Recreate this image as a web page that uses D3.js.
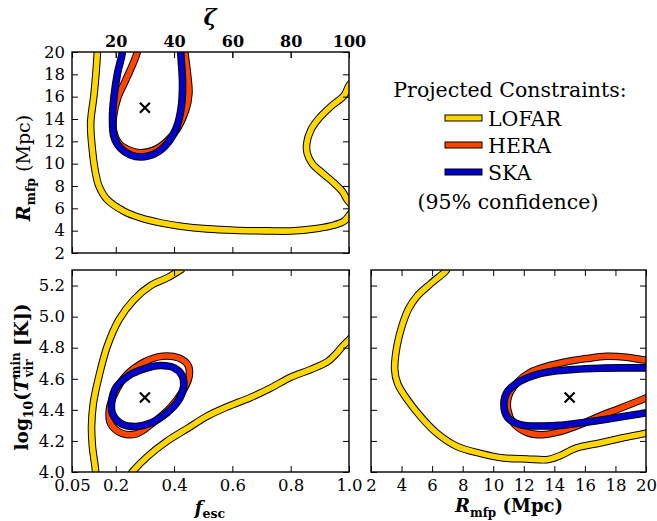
<!DOCTYPE html>
<html>
<head>
<meta charset="utf-8">
<script src="https://cdn.jsdelivr.net/npm/d3@7"></script>
<style>
  body { margin: 0; background: #fff; }
  text { font-family: "DejaVu Serif", serif; fill: #000; }
</style>
</head>
<body>
<div id="chart"></div>
<script>
// chart data
var instruments = ["LOFAR", "HERA", "SKA"];
var colors = ["#FFD700", "#FF4500", "#0000CD"];

var fescTicks = [0.05, 0.2, 0.4, 0.6, 0.8, 1.0];
var zetaTicks = [20, 40, 60, 80, 100];
var rmfpTicks = [2, 4, 6, 8, 10, 12, 14, 16, 18, 20];
var tvirTicks = [4.0, 4.2, 4.4, 4.6, 4.8, 5.0, 5.2];

var fiducial = { fesc: 0.3, rmfp: 15, tvir: 4.48 };

// f_esc vs R_mfp
var lofarFR_a = [[0.138,21],[0.137,20],[0.126,16.3],[0.114,13.6],[0.12,11.2],[0.131,9.15],[0.143,7.96],[0.171,6.77],[0.229,5.73],[0.286,5.14],[0.354,4.7],[0.423,4.4],[0.514,4.16],[0.606,4.04],[0.72,3.98],[0.80,3.97],[0.89,4.2],[0.949,4.5],[0.983,4.85],[1.0,5.35],[1.01,5.7]];
var lofarFR_b = [[1.01,17.3],[1.0,17.0],[0.983,16.1],[0.937,15.1],[0.897,14.06],[0.869,13.0],[0.855,11.8],[0.857,10.9],[0.874,10.0],[0.909,9.15],[0.949,8.26],[0.977,7.52],[0.994,6.77],[1.01,6.3]];
var heraFR = [[0.276,21],[0.274,20],[0.234,17.47],[0.208,15.98],[0.192,14.2],[0.192,13.0],[0.211,11.82],[0.251,11.16],[0.286,10.98],[0.343,11.37],[0.40,12.71],[0.44,14.79],[0.451,16.28],[0.446,18.07],[0.437,20],[0.435,21]];
var skaFR = [[0.225,21],[0.223,20],[0.206,18.07],[0.194,15.98],[0.189,14.2],[0.194,12.4],[0.217,11.37],[0.251,10.77],[0.286,10.6],[0.331,10.85],[0.377,11.8],[0.409,13.3],[0.425,15.1],[0.429,17.2],[0.423,20],[0.422,21]];

// f_esc vs log10 Tvir
var lofarFT_a = [[0.13,3.95],[0.131,4.0],[0.12,4.165],[0.117,4.29],[0.123,4.44],[0.143,4.62],[0.171,4.81],[0.211,4.98],[0.263,5.11],[0.32,5.20],[0.377,5.25],[0.43,5.31]];
var lofarFT_b = [[0.25,3.98],[0.257,4.0],[0.309,4.10],[0.377,4.20],[0.446,4.28],[0.514,4.36],[0.583,4.42],[0.663,4.48],[0.731,4.54],[0.80,4.61],[0.869,4.66],[0.926,4.71],[0.96,4.77],[0.983,4.82],[1.0,4.85],[1.01,4.87]];
var heraFT = [[0.30,4.71],[0.36,4.745],[0.415,4.735],[0.447,4.69],[0.452,4.62],[0.43,4.52],[0.39,4.42],[0.33,4.32],[0.27,4.245],[0.22,4.25],[0.183,4.31],[0.178,4.40],[0.195,4.50],[0.235,4.62]];
var skaFT = [[0.30,4.665],[0.352,4.685],[0.40,4.67],[0.428,4.62],[0.433,4.55],[0.415,4.46],[0.375,4.38],[0.32,4.315],[0.268,4.293],[0.22,4.31],[0.19,4.37],[0.186,4.45],[0.20,4.54],[0.245,4.62]];

// R_mfp vs log10 Tvir
var lofarRT = [[7.0,5.31],[6.86,5.29],[5.88,5.21],[5.0,5.13],[4.46,5.05],[4.03,4.94],[3.70,4.81],[3.55,4.66],[3.74,4.57],[4.35,4.47],[5.22,4.36],[6.31,4.25],[7.62,4.165],[9.15,4.12],[10.67,4.09],[12.2,4.084],[13.6,4.08],[14.37,4.105],[15.46,4.155],[16.99,4.187],[18.5,4.22],[20,4.25],[20.3,4.26]];
var heraRT = [[20.3,4.725],[20,4.72],[18.73,4.739],[17.4,4.745],[16.1,4.73],[14.8,4.71],[13.5,4.68],[12.4,4.64],[11.54,4.573],[11.0,4.487],[10.95,4.40],[11.32,4.316],[12.2,4.255],[13.18,4.24],[14.16,4.255],[15.68,4.305],[16.99,4.36],[18.3,4.41],[20,4.477],[20.3,4.49]];
var skaRT = [[20.3,4.67],[20,4.67],[18.5,4.67],[17.0,4.668],[15.25,4.66],[13.94,4.648],[12.85,4.627],[11.76,4.584],[10.95,4.52],[10.7,4.44],[10.95,4.35],[11.76,4.305],[13.07,4.296],[14.37,4.30],[15.68,4.316],[17.42,4.34],[20,4.38],[20.3,4.385]];

var svgWidth = 657, svgHeight = 521;

var svg = d3.select("#chart").append("svg")
  .attr("width", svgWidth)
  .attr("height", svgHeight);

var defs = svg.append("defs");

var fmtF = function(d) { return d === 0.05 ? "0.05" : d.toFixed(1); };
var fmtT = function(d) { return d.toFixed(1); };
var fmtR = d3.format("d");

var openLine = d3.line().curve(d3.curveCatmullRom.alpha(0.5));
var closedLine = d3.line().curve(d3.curveCatmullRomClosed.alpha(0.5));

function makePanel(id, box, xDomain, yDomain) {
  var x = d3.scaleLinear().domain(xDomain).range([box.left, box.right]);
  var y = d3.scaleLinear().domain(yDomain).range([box.bottom, box.top]);
  defs.append("clipPath").attr("id", "clip-" + id)
    .append("rect")
    .attr("x", box.left).attr("y", box.top)
    .attr("width", box.right - box.left).attr("height", box.bottom - box.top);
  var g = svg.append("g");
  var plot = g.append("g").attr("clip-path", "url(#clip-" + id + ")");
  return { x: x, y: y, g: g, plot: plot, box: box };
}

function drawContour(p, pts, color, closed) {
  var line = closed ? closedLine : openLine;
  var d = line(pts.map(function(v) { return [p.x(v[0]), p.y(v[1])]; }));
  p.plot.append("path").attr("d", d)
    .attr("fill", "none").attr("stroke", "#000").attr("stroke-width", 7.6)
    .attr("stroke-linejoin", "round");
  p.plot.append("path").attr("d", d)
    .attr("fill", "none").attr("stroke", color).attr("stroke-width", 5.6)
    .attr("stroke-linejoin", "round");
}

function drawMarker(p, xv, yv) {
  var cx = p.x(xv), cy = p.y(yv), s = 5;
  p.g.append("path")
    .attr("d", "M" + (cx - s) + "," + (cy - s) + "L" + (cx + s) + "," + (cy + s) +
               "M" + (cx - s) + "," + (cy + s) + "L" + (cx + s) + "," + (cy - s))
    .attr("stroke", "#000").attr("stroke-width", 2.2);
}

function styleAxis(sel) {
  sel.select(".domain").remove();
  sel.selectAll(".tick line").attr("stroke", "#000").attr("stroke-width", 1);
  sel.selectAll("text").attr("font-family", "DejaVu Serif").attr("font-size", 16.5).attr("fill", "#111");
}

function drawAxes(p, xTicks, yTicks, fx, fy) {
  var b = p.box;
  var bottom = p.g.append("g").attr("transform", "translate(0," + b.bottom + ")")
    .call(d3.axisBottom(p.x).tickValues(xTicks).tickSize(-6).tickPadding(7).tickFormat(fx || ""));
  styleAxis(bottom);
  var top = p.g.append("g").attr("transform", "translate(0," + b.top + ")")
    .call(d3.axisTop(p.x).tickValues(xTicks).tickSize(-6).tickFormat(""));
  styleAxis(top);
  var left = p.g.append("g").attr("transform", "translate(" + b.left + ",0)")
    .call(d3.axisLeft(p.y).tickValues(yTicks).tickSize(-6).tickPadding(7).tickFormat(fy || ""));
  styleAxis(left);
  var right = p.g.append("g").attr("transform", "translate(" + b.right + ",0)")
    .call(d3.axisRight(p.y).tickValues(yTicks).tickSize(-6).tickFormat(""));
  styleAxis(right);
  p.g.append("rect")
    .attr("x", b.left).attr("y", b.top)
    .attr("width", b.right - b.left).attr("height", b.bottom - b.top)
    .attr("fill", "none").attr("stroke", "#000").attr("stroke-width", 1.4);
}

// panels
var pFR = makePanel("fr", { left: 72, right: 349, top: 52, bottom: 253 }, [0.05, 1.0], [2, 20]);
var pFT = makePanel("ft", { left: 72, right: 349, top: 270, bottom: 472 }, [0.05, 1.0], [4.0, 5.3]);
var pRT = makePanel("rt", { left: 371, right: 646, top: 270, bottom: 472 }, [2, 20], [4.0, 5.3]);

// contours: yellow, then red, then blue on top
drawContour(pFR, lofarFR_a, colors[0], false);
drawContour(pFR, lofarFR_b, colors[0], false);
drawContour(pFR, heraFR, colors[1], false);
drawContour(pFR, skaFR, colors[2], false);

drawContour(pFT, lofarFT_a, colors[0], false);
drawContour(pFT, lofarFT_b, colors[0], false);
drawContour(pFT, heraFT, colors[1], true);
drawContour(pFT, skaFT, colors[2], true);

drawContour(pRT, lofarRT, colors[0], false);
drawContour(pRT, heraRT, colors[1], false);
drawContour(pRT, skaRT, colors[2], false);

drawMarker(pFR, fiducial.fesc, fiducial.rmfp);
drawMarker(pFT, fiducial.fesc, fiducial.tvir);
drawMarker(pRT, fiducial.rmfp, fiducial.tvir);

drawAxes(pFR, fescTicks, rmfpTicks, null, fmtR);
drawAxes(pFT, fescTicks, tvirTicks, fmtF, fmtT);
drawAxes(pRT, rmfpTicks, tvirTicks, fmtR, null);

// zeta axis on top of the first panel (zeta = 100 f_esc)
var zeta = d3.scaleLinear().domain([5, 100]).range([pFR.box.left, pFR.box.right]);
var zAxis = pFR.g.append("g").attr("transform", "translate(0," + pFR.box.top + ")")
  .call(d3.axisTop(zeta).tickValues(zetaTicks).tickSize(-6).tickPadding(7).tickFormat(fmtR));
styleAxis(zAxis);
zAxis.selectAll("text").attr("font-weight", "bold").attr("font-size", 16).attr("dy", "0.1em");

svg.append("text")
  .attr("x", 210).attr("y", 25)
  .attr("text-anchor", "middle")
  .attr("font-weight", "bold").attr("font-style", "italic").attr("font-size", 22)
  .text("ζ");

// axis labels
var yl1 = svg.append("text")
  .attr("transform", "translate(30,168) rotate(-90)")
  .attr("text-anchor", "middle").attr("font-size", 19);
yl1.append("tspan").attr("font-weight", "bold").attr("font-style", "italic").text("R");
yl1.append("tspan").attr("font-size", 12.5).attr("dy", 5).attr("font-weight", "bold").text("mfp");
yl1.append("tspan").attr("dy", -5).text("\u00a0(Mpc)");

var yl2 = svg.append("text")
  .attr("transform", "translate(28,377) rotate(-90)")
  .attr("text-anchor", "middle").attr("font-size", 18.5).attr("font-weight", "bold");
yl2.append("tspan").text("log");
yl2.append("tspan").attr("font-size", 12.5).attr("dy", 5).text("10");
yl2.append("tspan").attr("dy", -5).text("(");
yl2.append("tspan").attr("font-style", "italic").text("T");
yl2.append("tspan").attr("font-size", 12).attr("dy", -8).text("min");
yl2.append("tspan").attr("font-size", 12).attr("dx", -25).attr("dy", 13).text("vir");
yl2.append("tspan").attr("dy", -5).attr("dx", 7).text("\u00a0[K])");

var xl1 = svg.append("text")
  .attr("x", 210).attr("y", 514)
  .attr("text-anchor", "middle").attr("font-size", 18).attr("font-weight", "bold");
xl1.append("tspan").attr("font-style", "italic").text("f");
xl1.append("tspan").attr("font-size", 12.5).attr("dy", 4).text("esc");

var xl2 = svg.append("text")
  .attr("x", 509).attr("y", 512)
  .attr("text-anchor", "middle").attr("font-size", 18).attr("font-weight", "bold");
xl2.append("tspan").attr("font-style", "italic").text("R");
xl2.append("tspan").attr("font-size", 12).attr("dy", 5).text("mfp");
xl2.append("tspan").attr("dy", -5).text("\u00a0(Mpc)");

// legend
svg.append("text")
  .attr("x", 510).attr("y", 97)
  .attr("text-anchor", "middle").attr("font-size", 20.5)
  .text("Projected Constraints:");

var legendY = [118, 145, 172];
instruments.forEach(function(name, i) {
  svg.append("rect")
    .attr("x", 445).attr("y", legendY[i] - 3)
    .attr("width", 37).attr("height", 6)
    .attr("fill", colors[i]).attr("stroke", "#000").attr("stroke-width", 1);
  svg.append("text")
    .attr("x", 488).attr("y", legendY[i] + 8)
    .attr("font-size", 20.5)
    .text(name);
});

svg.append("text")
  .attr("x", 508).attr("y", 209)
  .attr("text-anchor", "middle").attr("font-size", 20.5)
  .text("(95% confidence)");
</script>
</body>
</html>
